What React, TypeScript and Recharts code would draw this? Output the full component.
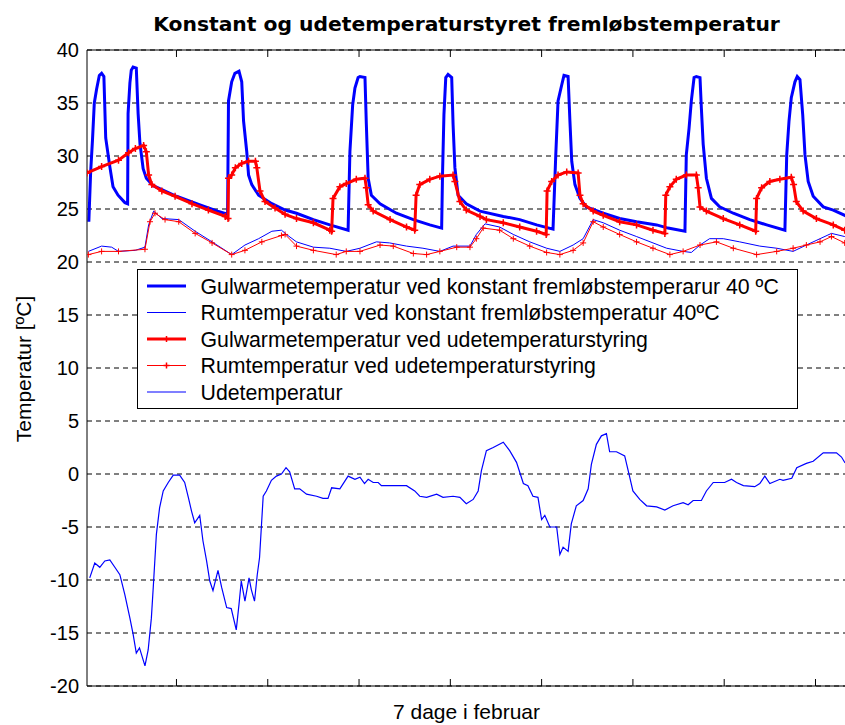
import { LineChart, Line, XAxis, YAxis, CartesianGrid, ReferenceLine } from "recharts";

// [hour, °C] pairs
const FLOOR_CONST: [number, number][] = [
  [0.8, 23.8], [1.2, 28.5], [1.6, 31.5], [2.0, 35.0], [2.5, 36.3], [3.1, 37.6], [3.6, 37.8], [4.1, 37.5],
  [4.5, 31.7], [5.4, 29.0], [6.1, 27.1], [7.2, 26.3], [8.7, 25.6], [9.3, 25.5], [9.4, 34.0], [9.8, 36.9],
  [10.1, 38.1], [10.5, 38.4], [11.2, 38.3], [11.6, 34.0], [12.0, 31.2], [12.7, 28.8], [13.4, 27.9], [14.9, 27.2],
  [20, 26.2], [25, 25.4], [29, 24.8], [31.2, 24.5], [31.4, 35.2], [32.1, 37.0], [32.8, 37.8], [33.7, 38.0],
  [34.3, 37.0], [34.7, 33.3], [35.4, 30.4], [35.8, 28.2], [36.5, 27.3], [38.0, 26.3], [40.9, 25.5], [43.8, 24.9],
  [46.3, 24.6], [50.0, 24.0], [53.6, 23.5], [57.6, 23.0], [58.0, 30.4], [58.6, 34.8], [59.1, 36.4], [59.8, 37.4],
  [60.2, 37.5], [61.3, 37.4], [61.6, 33.0], [62.0, 27.9], [62.7, 26.3], [64.6, 25.5], [68.2, 24.6], [71.9, 24.0],
  [75.5, 23.5], [78.1, 23.2], [78.3, 28.5], [78.6, 33.9], [79.0, 37.4], [79.5, 37.7], [80.3, 37.4], [80.6, 33.0],
  [81.0, 28.9], [81.7, 26.3], [83.5, 25.5], [86.5, 24.8], [91.6, 24.3], [95.2, 24.0], [98.9, 23.5], [102.5, 23.1],
  [103.1, 30.1], [103.6, 35.2], [104.4, 36.7], [104.9, 37.6], [105.8, 37.5], [106.2, 33.3], [106.6, 29.5], [107.3, 27.3],
  [108.4, 26.0], [109.8, 25.2], [113.5, 24.6], [117.1, 24.1], [120.8, 23.8], [125.2, 23.5], [127.7, 23.2], [131.4, 22.9],
  [131.7, 30.1], [132.3, 32.6], [132.8, 35.2], [133.4, 37.4], [133.9, 37.5], [134.7, 37.4], [135.0, 34.5], [135.4, 31.1],
  [136.1, 27.9], [137.2, 26.0], [139.0, 25.2], [142.0, 24.6], [145.6, 24.0], [149.3, 23.5], [153.3, 23.0], [153.7, 30.1],
  [154.2, 33.3], [154.7, 35.5], [155.5, 37.0], [156.0, 37.5], [156.6, 37.2], [157.2, 33.9], [157.7, 30.1], [158.4, 27.6],
  [159.5, 26.2], [161.7, 25.2], [163.9, 24.9], [166.4, 24.4], [168.0, 24.1],
];

const ROOM_CONST: [number, number][] = [
  [0.7, 21.0], [3.6, 21.5], [5.8, 21.4], [7.3, 21.0], [11.0, 21.1], [13.1, 21.4], [13.9, 23.5], [15.0, 24.8],
  [16.8, 24.1], [20.5, 24.0], [24.1, 22.9], [27.8, 21.9], [32.1, 20.7], [35.0, 21.6], [38.0, 22.2], [40.9, 22.9],
  [43.0, 23.0], [44.1, 22.6], [46.3, 21.9], [50.0, 21.4], [53.6, 21.3], [57.2, 21.0], [60.2, 21.3], [63.8, 21.9],
  [66.7, 21.8], [70.4, 21.5], [74.0, 21.3], [77.7, 21.0], [80.6, 21.5], [84.3, 21.5], [85.7, 22.6], [87.6, 23.6],
  [90.8, 23.3], [93.8, 22.6], [97.4, 21.9], [101.1, 21.3], [104.0, 21.0], [106.9, 21.6], [109.1, 22.2], [111.3, 24.0],
  [113.5, 23.7], [117.1, 23.0], [120.8, 22.4], [124.4, 21.8], [127.4, 21.3], [131.0, 21.0], [132.8, 20.9], [134.7, 21.6],
  [136.8, 22.2], [139.8, 22.2], [143.4, 21.9], [147.8, 21.5], [151.5, 21.3], [155.1, 21.0], [158.0, 21.6], [161.0, 22.2],
  [163.5, 22.7], [166.4, 22.4], [168.0, 22.3],
];

const FLOOR_OUT: [number, number][] = [
  [0.4, 28.4], [3.6, 29.0], [7.3, 29.6], [9.5, 30.3], [11.0, 30.7], [12.8, 31.0], [13.4, 30.4], [13.9, 28.2],
  [14.6, 27.3], [16.8, 26.7], [19.7, 26.2], [23.4, 25.5], [27.0, 24.9], [30.7, 24.3], [31.3, 24.1], [31.4, 27.9],
  [32.1, 28.2], [32.9, 28.9], [34.3, 29.3], [35.8, 29.5], [37.3, 29.5], [37.6, 28.9], [38.3, 26.7], [39.4, 25.7],
  [41.6, 25.1], [43.8, 24.5], [46.3, 24.1], [50.0, 23.7], [53.6, 23.0], [54.0, 22.9], [54.3, 26.0], [55.8, 27.1],
  [57.2, 27.4], [59.4, 27.8], [61.3, 27.9], [61.6, 27.0], [62.0, 25.4], [63.1, 24.8], [66.8, 24.0], [70.4, 23.3],
  [72.2, 23.0], [72.5, 26.3], [73.3, 27.3], [75.5, 27.8], [77.7, 28.1], [80.6, 28.2], [81.0, 27.6], [82.1, 25.7],
  [83.5, 24.9], [86.5, 24.3], [87.9, 24.0], [91.6, 23.7], [95.2, 23.3], [98.9, 22.9], [101.0, 22.6], [101.2, 26.7],
  [102.2, 27.6], [103.6, 28.2], [105.5, 28.5], [108.0, 28.4], [108.4, 26.3], [109.1, 25.5], [111.3, 24.8], [113.5, 24.4],
  [117.1, 23.8], [120.8, 23.5], [124.4, 23.0], [127.0, 22.7], [127.2, 26.3], [128.1, 27.1], [129.5, 27.8], [131.7, 28.2],
  [133.9, 28.2], [134.3, 27.0], [134.7, 25.2], [136.1, 24.8], [139.8, 24.1], [143.4, 23.5], [146.9, 22.9], [147.1, 26.0],
  [148.2, 27.0], [150.0, 27.6], [152.2, 27.8], [154.7, 28.0], [155.2, 27.3], [155.8, 25.7], [157.3, 24.8], [160.2, 24.1],
  [163.9, 23.5], [166.4, 23.0], [168.0, 22.8],
];

const ROOM_OUT: [number, number][] = [
  [0.7, 20.7], [3.6, 21.0], [7.3, 21.0], [13.1, 21.2], [14.2, 23.8], [15.3, 24.6], [17.5, 24.0], [20.5, 23.8],
  [24.1, 22.7], [27.8, 21.8], [32.1, 20.7], [35.0, 21.1], [38.7, 21.9], [43.0, 22.5], [43.8, 22.6], [46.3, 21.5],
  [50.0, 21.1], [55.0, 20.7], [57.2, 21.0], [60.2, 21.0], [64.6, 21.6], [67.5, 21.5], [71.9, 20.8], [74.8, 20.7],
  [77.7, 21.0], [81.4, 21.4], [84.3, 21.4], [85.7, 22.2], [87.2, 23.2], [90.8, 23.0], [93.8, 22.2], [97.4, 21.5],
  [101.1, 20.9], [104.0, 20.7], [106.9, 21.1], [109.1, 21.8], [111.3, 23.8], [113.5, 23.3], [117.1, 22.6], [120.8, 21.9],
  [124.4, 21.3], [128.1, 20.7], [131.0, 21.0], [134.7, 21.6], [138.3, 21.9], [142.0, 21.3], [147.1, 20.7], [151.5, 21.0],
  [155.1, 21.3], [158.0, 21.6], [161.0, 21.9], [163.5, 22.4], [166.4, 21.8], [168.0, 21.6],
];

const OUTDOOR: [number, number][] = [
  [1.0, -9.8], [2.1, -8.4], [3.2, -8.8], [4.3, -8.2], [5.4, -8.1], [6.5, -8.8], [7.6, -9.5], [8.7, -11.4],
  [9.8, -13.6], [10.5, -15.1], [11.2, -16.9], [11.9, -16.4], [13.1, -18.1], [13.8, -16.6], [14.5, -13.6], [15.0, -10.1],
  [15.6, -5.7], [16.3, -3.2], [17.1, -1.6], [18.2, -0.8], [19.3, -0.1], [20.7, -0.1], [21.8, -0.8], [22.6, -2.2],
  [23.3, -3.5], [24.0, -4.6], [25.1, -3.9], [25.8, -6.3], [26.6, -8.2], [27.3, -10.1], [28.0, -11.0], [29.1, -9.1],
  [29.9, -10.7], [31.0, -12.6], [32.0, -12.7], [33.1, -14.7], [33.7, -12.3], [34.2, -10.1], [35.0, -12.0], [35.9, -9.8],
  [36.4, -10.9], [37.1, -12.0], [37.7, -9.5], [38.2, -7.9], [38.6, -5.0], [39.0, -2.1], [39.7, -1.6], [40.8, -0.6],
  [41.9, -0.2], [43.0, 0.0], [44.0, 0.6], [44.8, 0.2], [45.9, -1.4], [47.0, -1.4], [48.5, -1.9], [50.7, -2.1],
  [52.1, -2.3], [53.2, -2.3], [54.0, -1.3], [55.8, -1.4], [57.6, -0.2], [59.1, -0.5], [60.2, -0.3], [61.2, -0.9],
  [62.0, -0.5], [63.1, -0.8], [64.2, -0.8], [64.9, -1.1], [70.4, -1.1], [72.2, -1.6], [73.3, -2.1], [74.8, -2.2],
  [77.0, -1.9], [78.4, -2.2], [80.6, -2.1], [82.1, -2.2], [83.5, -2.8], [85.0, -2.4], [86.1, -1.6], [86.8, 0.3],
  [87.9, 2.2], [89.4, 2.5], [91.6, 3.0], [93.0, 2.2], [94.5, 1.1], [96.0, -0.9], [97.0, -1.1], [98.1, -2.1],
  [99.2, -2.2], [100.0, -4.3], [100.7, -3.9], [101.8, -5.0], [103.3, -5.0], [104.0, -7.6], [104.7, -6.9], [105.8, -7.3],
  [106.5, -4.7], [107.6, -3.0], [109.1, -2.5], [110.2, -1.4], [110.9, 0.9], [112.0, 2.8], [113.1, 3.6], [114.2, 3.8],
  [114.9, 2.1], [116.4, 2.1], [118.2, 1.7], [119.3, -0.3], [120.0, -1.6], [121.5, -2.4], [123.0, -3.0], [125.2, -3.1],
  [127.0, -3.4], [128.8, -3.0], [131.0, -2.7], [132.1, -2.9], [133.2, -2.5], [135.0, -2.5], [136.1, -1.6], [137.6, -0.8],
  [140.1, -0.8], [141.6, -0.5], [142.7, -0.8], [144.2, -1.1], [146.7, -1.2], [147.8, -0.9], [148.9, -0.2], [150.0, -0.9],
  [152.2, -0.5], [152.9, -0.6], [154.8, -0.4], [155.9, 0.6], [158.0, 1.0], [159.5, 1.2], [161.7, 2.0], [164.6, 2.0],
  [165.7, 1.6], [166.4, 1.1], [168.0, 0.8],
];

const Y_TICKS = [-20, -15, -10, -5, 0, 5, 10, 15, 20, 25, 30, 35, 40];
const X_TICKS = [20, 40, 60, 80, 100, 120, 140, 160];
const Y_MIN = -20;
const Y_MAX = 40;
// inward tick length, in °C (about 7px at this scale)
const TICK_LEN = 0.66;

const LEGEND = [
  { label: "Gulwarmetemperatur ved konstant fremløbstemperarur 40 ºC", color: "#0000ff", width: 3, marker: false },
  { label: "Rumtemperatur ved konstant fremløbstemperatur 40ºC", color: "#0000ff", width: 1, marker: false },
  { label: "Gulwarmetemperatur ved udetemperaturstyring", color: "#ff0000", width: 3, marker: true },
  { label: "Rumtemperatur ved udetemperaturstyring", color: "#ff0000", width: 1, marker: true },
  { label: "Udetemperatur", color: "#0000ff", width: 1.2, marker: false },
];

const toRows = (pairs: [number, number][]) => pairs.map(([h, v]) => ({ h, v }));

const SANS = "'Liberation Sans', Arial, sans-serif";

function plusDot(size: number, width: number) {
  return (props: any) => {
    const { cx, cy, index } = props;
    if (cx == null || cy == null) return <g key={index} />;
    const r = size / 2;
    return (
      <path
        key={index}
        d={`M${cx - r},${cy}H${cx + r}M${cx},${cy - r}V${cy + r}`}
        stroke="#ff0000"
        strokeWidth={width}
        fill="none"
      />
    );
  };
}

export default function App() {
  return (
    <div
      style={{
        position: "absolute",
        left: 0,
        top: 0,
        width: 845,
        height: 725,
        overflow: "hidden",
        background: "#fff",
        fontFamily: SANS,
      }}
    >
      <LineChart width={870} height={725} margin={{ top: 50, right: 18, bottom: 39, left: 0 }}>
        <CartesianGrid vertical={false} stroke="#000" strokeDasharray="5 4" />
        <XAxis dataKey="h" type="number" domain={[0.4, 168]} allowDataOverflow hide />
        <YAxis
          type="number"
          domain={[Y_MIN, Y_MAX]}
          ticks={Y_TICKS}
          interval={0}
          width={87}
          tickLine={false}
          axisLine={{ stroke: "#000" }}
          tick={{ fill: "#000", fontSize: 20, fontFamily: SANS }}
        />
        <Line
          data={toRows(FLOOR_CONST)}
          dataKey="v"
          stroke="#0000ff"
          strokeWidth={3}
          dot={false}
          activeDot={false}
          isAnimationActive={false}
        />
        <Line
          data={toRows(ROOM_CONST)}
          dataKey="v"
          stroke="#0000ff"
          strokeWidth={1}
          dot={false}
          activeDot={false}
          isAnimationActive={false}
        />
        <Line
          data={toRows(FLOOR_OUT)}
          dataKey="v"
          stroke="#ff0000"
          strokeWidth={3}
          dot={plusDot(7, 1.5)}
          activeDot={false}
          isAnimationActive={false}
        />
        <Line
          data={toRows(ROOM_OUT)}
          dataKey="v"
          stroke="#ff0000"
          strokeWidth={1}
          dot={plusDot(6, 1)}
          activeDot={false}
          isAnimationActive={false}
        />
        <Line
          data={toRows(OUTDOOR)}
          dataKey="v"
          stroke="#0000ff"
          strokeWidth={1.2}
          dot={false}
          activeDot={false}
          isAnimationActive={false}
        />
        {/* plot frame (top and bottom) with inward tick marks */}
        <ReferenceLine y={Y_MAX} stroke="#000" strokeWidth={1} />
        <ReferenceLine y={Y_MIN} stroke="#000" strokeWidth={1} />
        {X_TICKS.map((t) => (
          <ReferenceLine
            key={`b${t}`}
            segment={[{ x: t, y: Y_MIN }, { x: t, y: Y_MIN + TICK_LEN }]}
            stroke="#000"
            strokeWidth={1}
          />
        ))}
        {X_TICKS.map((t) => (
          <ReferenceLine
            key={`t${t}`}
            segment={[{ x: t, y: Y_MAX }, { x: t, y: Y_MAX - TICK_LEN }]}
            stroke="#000"
            strokeWidth={1}
          />
        ))}
      </LineChart>

      <svg
        width={845}
        height={725}
        style={{ position: "absolute", left: 0, top: 0, pointerEvents: "none" }}
      >
        <text
          x={466.5}
          y={31}
          textAnchor="middle"
          fontFamily="'DejaVu Sans', Verdana, sans-serif"
          fontWeight="bold"
          fontSize={20.3}
          fill="#000"
        >
          Konstant og udetemperaturstyret fremløbstemperatur
        </text>
        <text x={466.5} y={719} textAnchor="middle" fontFamily={SANS} fontSize={21} fill="#000">
          7 dage i februar
        </text>
        <text
          transform="translate(31,369) rotate(-90)"
          textAnchor="middle"
          fontFamily={SANS}
          fontSize={21}
          fill="#000"
        >
          Temperatur [ºC]
        </text>

        <rect x={137.5} y={269.5} width={660} height={139} fill="#fff" stroke="#000" strokeWidth={1} />
        {LEGEND.map((item, i) => {
          const cy = 286 + i * 26.5;
          return (
            <g key={item.label}>
              <line x1={147} x2={186} y1={cy} y2={cy} stroke={item.color} strokeWidth={item.width} />
              {item.marker && (
                <path
                  d={`M${166.5 - 3},${cy}H${166.5 + 3}M166.5,${cy - 3}V${cy + 3}`}
                  stroke={item.color}
                  strokeWidth={1.5}
                />
              )}
              <text x={200.5} y={cy + 7.7} fontFamily={SANS} fontSize={21.3} fill="#000">
                {item.label}
              </text>
            </g>
          );
        })}
      </svg>
    </div>
  );
}
